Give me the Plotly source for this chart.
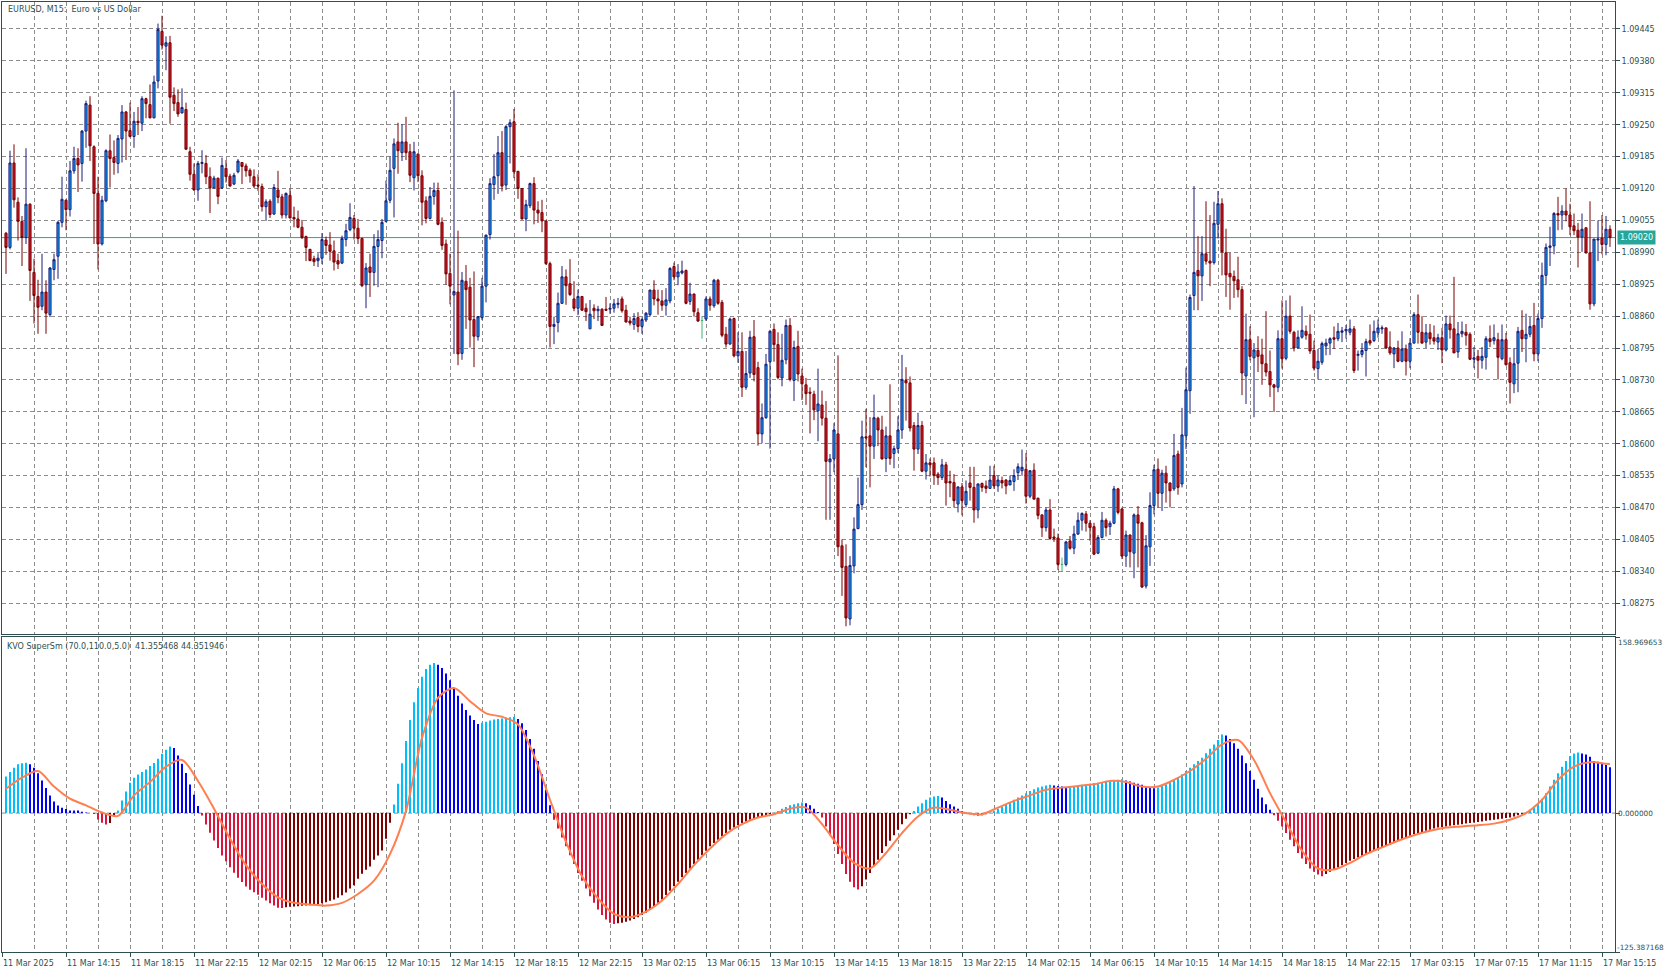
import plotly.graph_objects as go

# ---------------- DATA ----------------
# Prices are stored in points (0.00001) above 1.08000
PRICE_BASE = 1.08
POINT = 0.00001

opens = [1029,1000,1172,1092,1053,1020,1088,949,900,880,
909,863,955,982,1051,1096,1077,1156,1181,1171,
1237,1290,1205,1110,1007,1095,1197,1183,1171,1221,
1276,1238,1226,1257,1253,1303,1291,1264,1339,1440,
1410,1417,1310,1295,1274,1281,1195,1149,1117,1171,
1171,1144,1121,1141,1121,1161,1145,1129,1154,1173,
1166,1157,1144,1127,1124,1083,1094,1068,1117,1103,
1066,1106,1061,1058,1041,1022,996,977,973,978,
1015,1005,993,973,968,1016,1036,1059,1039,1018,
924,960,949,1002,1014,1053,1096,1161,1215,1193,
1215,1195,1142,1190,1146,1095,1059,1104,1116,1051,
1007,947,903,909,784,931,919,853,818,857,
921,1026,1128,1146,1193,1127,1246,1256,1155,1120,
1058,1085,1130,1076,1071,1054,967,839,847,886,
940,926,895,876,900,876,834,876,871,874,
874,874,876,884,895,872,850,843,857,839,
852,863,913,895,891,882,891,961,940,948,
953,890,905,867,851,854,895,881,933,888,
823,803,855,779,788,715,744,818,755,620,
653,767,833,802,734,771,841,729,798,738,
720,705,701,667,679,652,563,569,620,392,
350,243,351,427,476,614,616,595,652,628,
570,616,580,590,628,729,724,637,589,637,
544,561,561,538,531,557,523,521,477,512,
476,520,511,465,519,514,509,535,514,525,
526,516,523,541,545,548,493,546,489,455,
429,465,410,408,354,354,402,387,416,444,
457,438,431,377,409,444,431,438,508,467,
371,414,377,455,439,310,390,474,548,499,
540,520,508,579,518,616,708,902,953,942,
987,972,969,1047,1089,989,947,941,934,914,
738,812,775,790,781,763,747,720,715,814,
774,860,827,795,817,829,823,790,753,766,
799,805,816,814,827,830,827,834,780,782,
790,810,810,826,834,836,797,783,795,768,
793,768,805,863,827,807,826,816,807,816,
791,844,834,787,824,827,823,772,778,770,
776,814,810,812,773,812,765,722,764,831,
814,823,841,783,855,943,1000,1003,1069,1066,
1074,1066,1044,1035,1021,1040,989,885,1015,1019,
1006,1037]

highs = [1031,1197,1210,1102,1064,1202,1090,977,934,987,
933,960,987,1054,1144,1098,1176,1205,1202,1239,
1299,1308,1208,1144,1105,1200,1230,1218,1229,1290,
1278,1295,1276,1286,1308,1305,1332,1350,1456,1472,
1430,1431,1326,1322,1324,1295,1205,1171,1176,1198,
1188,1163,1146,1142,1183,1178,1150,1152,1180,1174,
1171,1161,1159,1149,1130,1098,1098,1129,1156,1109,
1112,1120,1083,1075,1056,1024,997,983,988,1029,
1022,1031,1014,987,1024,1048,1090,1066,1058,1020,
968,987,1027,1035,1058,1136,1185,1222,1254,1251,
1266,1211,1215,1192,1157,1104,1123,1132,1132,1061,
1016,987,1320,1034,950,964,938,951,860,938,
1026,1141,1190,1227,1237,1249,1261,1282,1156,1121,
1097,1132,1143,1094,1097,1055,971,859,908,962,
955,976,931,914,901,886,893,884,881,876,
899,886,895,897,900,883,859,866,868,857,
868,914,933,914,913,917,960,969,966,973,
955,928,906,876,860,900,900,936,936,893,
838,857,857,827,827,789,830,852,767,682,
783,832,845,827,824,853,856,810,830,753,
734,715,708,753,708,687,579,642,780,405,
395,371,450,531,647,671,654,700,655,657,
635,721,596,656,781,756,737,644,663,646,
579,570,572,542,569,563,545,538,513,520,
525,553,553,519,521,525,555,555,535,533,
528,535,548,560,588,581,546,560,490,456,
470,487,427,417,368,402,412,433,460,460,
463,444,439,414,461,448,443,514,510,470,
423,415,458,473,441,414,501,557,570,547,
555,521,620,586,673,755,904,1125,1023,1023,
1094,1066,1093,1115,1100,1038,989,953,981,921,
865,839,805,819,814,870,790,722,831,892,
892,902,830,831,880,841,863,810,793,808,
814,817,839,846,838,842,853,840,790,805,
814,843,851,853,841,837,829,797,810,829,
802,815,868,904,860,844,844,841,824,836,
861,861,940,848,849,844,827,797,791,797,
819,841,843,826,843,826,776,795,838,872,
865,858,887,865,969,1008,1042,1072,1103,1086,
1120,1089,1069,1050,1069,1040,1094,1017,1055,1066,
1064,1045]

lows = [946,996,1081,1014,962,1007,891,845,824,872,
824,858,933,936,1041,1035,1063,1150,1113,1134,
1203,1176,1007,955,1004,1092,1122,1148,1151,1173,
1178,1224,1203,1229,1237,1263,1263,1263,1324,1403,
1361,1252,1278,1266,1273,1199,1136,1115,1095,1151,
1129,1070,1120,1088,1119,1132,1124,1127,1151,1129,
1144,1132,1121,1115,1073,1054,1060,1066,1090,1059,
1059,1059,1041,1039,1017,972,972,962,960,966,
985,973,953,956,966,1002,1033,1016,1007,919,
876,899,922,919,978,1051,1090,1061,1150,1176,
1178,1133,1116,1133,1045,1049,1057,1087,1045,995,
924,884,783,760,771,834,796,756,810,852,
888,1016,1097,1109,1114,1117,1171,1141,1099,1057,
1033,1080,1047,1050,1031,964,796,803,827,885,
883,901,870,862,871,850,834,854,850,840,
871,865,867,876,867,847,841,832,827,824,
848,859,882,863,871,861,886,933,923,945,
884,883,859,848,814,850,871,877,883,817,
796,802,776,765,695,710,734,727,596,601,
651,590,767,731,717,762,727,687,727,689,
679,621,648,605,637,445,445,542,371,290,
228,230,336,426,465,552,511,569,595,568,
542,557,550,581,610,647,625,545,579,542,
527,533,516,516,526,474,491,470,460,454,
470,484,439,448,502,499,508,508,502,509,
497,516,504,526,535,478,489,487,446,410,
421,404,400,343,339,350,384,375,414,423,
421,402,373,375,407,411,414,436,456,365,
349,348,326,348,306,305,351,456,470,463,
480,470,504,496,511,589,661,872,872,891,
965,921,965,1018,943,899,873,897,898,699,
681,770,654,746,720,737,695,665,705,753,
770,824,788,795,814,812,783,749,731,761,
780,781,793,809,807,814,821,744,749,776,
737,800,807,816,824,793,781,754,766,766,
739,754,804,804,804,795,802,802,791,764,
788,814,785,775,817,800,771,754,733,753,
751,797,802,731,770,759,682,703,705,787,
766,817,768,768,836,923,962,986,1035,1036,
1053,1025,1025,959,991,987,873,880,972,986,
984,1001]

closes = [1000,1172,1097,1053,1020,1088,953,902,878,909,
866,958,975,1051,1098,1077,1156,1181,1168,1237,
1293,1207,1110,1007,1096,1197,1181,1173,1222,1276,
1237,1226,1257,1254,1303,1293,1264,1337,1444,1412,
1417,1306,1293,1272,1285,1200,1149,1117,1171,1173,
1144,1121,1141,1104,1167,1144,1125,1147,1176,1165,
1156,1146,1125,1125,1083,1093,1067,1122,1102,1066,
1110,1060,1058,1041,1020,1000,973,971,978,1016,
1004,992,970,966,1018,1034,1061,1039,1018,922,
958,949,1002,1016,1051,1095,1157,1211,1197,1215,
1193,1147,1195,1146,1092,1059,1104,1116,1047,1004,
946,921,910,783,933,914,852,819,859,921,
1025,1130,1144,1193,1125,1246,1254,1154,1120,1058,
1087,1130,1076,1070,1054,967,839,843,886,940,
922,904,876,900,872,869,864,871,874,841,
872,876,885,886,871,848,846,855,839,853,
866,913,895,891,882,893,957,940,950,952,
886,905,869,850,851,895,882,933,886,821,
803,854,779,788,715,743,817,741,620,653,
762,829,802,735,770,841,731,796,742,722,
702,703,669,681,652,564,569,628,390,348,
245,352,426,476,614,612,595,653,628,569,
616,570,590,628,731,724,632,589,637,544,
561,557,535,531,557,520,520,484,512,484,
503,511,465,518,511,509,526,514,526,520,
514,525,535,553,552,493,545,487,454,429,
465,407,407,354,354,400,387,416,444,458,
438,429,375,409,444,429,438,508,460,371,
414,380,455,438,308,392,474,547,499,540,
520,504,576,511,618,710,898,949,942,987,
972,968,1049,1089,991,944,940,932,914,744,
812,778,791,778,763,746,720,715,814,773,
860,829,795,817,831,821,789,754,768,804,
805,814,813,829,830,833,834,749,782,790,
808,805,829,836,836,795,785,795,768,793,
768,805,863,827,805,826,814,809,816,791,
844,832,785,824,829,821,772,775,770,778,
814,808,816,776,812,761,725,763,829,814,
823,839,783,855,943,1000,1003,1069,1066,1074,
1066,1042,1034,1021,1037,989,885,1017,1017,1006,
1037,1020]

# KVO histogram, one value per bar
kvo_hist = [33,37,41,44,45,45.5,44,41,36,29.5,
22.6,16,10.5,6.9,4.8,3.6,2.4,2.35,2.3,1.2,
0.6,0.1,-0.9,-5.7,-8.7,-10.2,-9,-3,2.4,11.4,
19.6,27.4,31.9,34.9,37,39.4,42.5,45.2,49.1,53.6,
57.2,60.2,58.7,52.1,44.6,36.1,25.9,16.6,6.3,-2.1,
-10.2,-17.8,-24.7,-31.6,-38.2,-43.4,-48.8,-53.9,-58.4,-62.3,
-66.2,-69.3,-71.4,-73.8,-76.5,-78.9,-81.3,-83.4,-85.5,-85.6,
-84.9,-84.6,-84.3,-84.0,-83.7,-83.4,-83.1,-82.5,-82.0,-81.3,
-80.4,-79.2,-78.0,-76.5,-74.1,-71.7,-68.1,-65.1,-59.3,-54.8,
-51.2,-48.2,-42.2,-38.2,-33.7,-23.2,-8.7,7.8,26.5,45,
65,84,100,113,123,130,134,135.5,134,131,
126,120,113,106,99,93,88,84,80.5,81.5,
82.5,83.5,84.5,85,85.5,86,86.5,87,85,81,
75,67,58,47,35,21,7,-6,-14,-22,
-30,-38,-46,-54,-61,-68,-75,-81,-87,-92,
-96,-99,-100,-99.5,-99,-98,-97,-95.5,-94,-92,
-90,-87,-84,-81,-78,-74,-70,-66,-62,-58,
-54,-50,-46,-42,-38,-34,-30,-27,-24,-21,
-18,-15,-13,-11,-9,-7.5,-6,-5,-4,-3,
-2,-1,0.5,2,4,5.5,7,8,9,9.5,
9,7,4,1,-4,-12,-20,-28,-37,-46,
-55,-62,-67,-69,-66,-60,-54,-48,-42,-36,
-30,-25,-20,-15,-10,-5,-1,2,6,9,
12,14,15,15.5,14,11,8,6,4,2,
0.5,-1,-2,-2.5,-2,-1,0.5,2,4,6,
8,10,12,14,16,18,20,21.5,23,24,
25,25.5,25,24.5,24,23.5,24,24.5,25,25.5,
26,26.5,27,27.5,28,28.5,29,29.5,30,30.5,
29.5,28.5,27.5,26.5,25.5,24.5,23.5,22.5,23,24.5,
26,28,30,32.5,35,38,41,44,47,50,
54,58,62,66,71,70,67,63,58,52,
45,38,30,22,14,8,3,-2,-7,-12,
-18,-24,-30,-36,-41,-46,-50,-53,-55.5,-57,
-55,-53,-51,-49,-47,-45,-43,-41.5,-40,-38.5,
-37,-35.5,-34,-32.5,-31,-29.5,-28,-26.5,-25,-23.5,
-22,-20.5,-19,-18,-17,-16,-15,-14,-13,-12.5,
-12,-11.5,-11,-10.5,-10,-9.5,-9,-8.5,-8,-7.5,
-7,-6.5,-6,-5.5,-5,-4.5,-4,-3,-2,-1,
1,3,6,9,13,18,24,30,36,41.8,
47,51.5,53.9,54.8,53.9,53,50.9,47,46.4,45.5,
43.4,41.355468]

# KVO signal line, read every 4 bars
signal_bars = [0,4,8,12,16,20,24,28,32,36,40,44,48,52,56,60,64,68,72,76,80,84,88,92,96,
100,104,108,112,116,120,124,128,132,136,140,144,148,152,156,160,164,168,172,176,180,184,188,192,196,
200,204,208,212,216,220,224,228,232,236,240,244,248,252,256,260,264,268,272,276,280,284,288,292,296,
300,304,308,312,316,320,324,328,332,336,340,344,348,352,356,360,364,368,372,376,380,384,388,392,396,400,401]
signal_vals = [22,32,38,24,13,7,0.5,-2.5,16,28,42,48,29,4,-23,-47,-64,-76,-81,-82.5,-83.5,-81,-73,-61,-37,
2,68,104,113,101,90,87,80,52,12,-26,-57,-77,-91,-94,-89,-79,-64,-47,-32,-19,-10,-4,-1,4,
5,-10,-29,-45,-50,-36,-18,-3,5,3,0,-1,5,11,16,21,23,24.5,26,29,28,24,24,30,38,
49,62,66,48,18,-8,-34,-50,-51,-45,-37,-31,-25,-20,-16,-13,-12,-11,-9.5,-6,0,12,30,42,46,44.5,44.351946]

time_labels = ["11 Mar 2025","11 Mar 14:15","11 Mar 18:15","11 Mar 22:15","12 Mar 02:15","12 Mar 06:15",
"12 Mar 10:15","12 Mar 14:15","12 Mar 18:15","12 Mar 22:15","13 Mar 02:15","13 Mar 06:15",
"13 Mar 10:15","13 Mar 14:15","13 Mar 18:15","13 Mar 22:15","14 Mar 02:15","14 Mar 06:15",
"14 Mar 10:15","14 Mar 14:15","14 Mar 18:15","14 Mar 22:15","17 Mar 03:15","17 Mar 07:15",
"17 Mar 11:15","17 Mar 15:15"]
time_label_bars = [-1,15,31,47,63,79,95,111,127,143,159,175,191,207,223,239,255,271,287,303,319,335,351,367,383,399]

price_tick_labels = ["1.08275","1.08340","1.08405","1.08470","1.08535","1.08600","1.08665","1.08730",
"1.08795","1.08860","1.08925","1.08990","1.09055","1.09120","1.09185","1.09250","1.09315","1.09380","1.09445"]
current_price = 1.09020
ind_top, ind_bottom = 158.969653, -125.387168
ind_labels = ["158.969653", "0.000000", "-125.387168"]
title_text = "EURUSD, M15:  Euro vs US Dollar"
ind_text = "KVO SuperSm (70.0,110.0,5.0)  41.355468 44.351946"

# ---------------- STYLE ----------------
W, H = 1668, 974
L, R, T, B = 2, 1615, 2, 952
FONT = "DejaVu Sans"
TXT = "#2F4F4F"
AXC = "#2F4F4F"
GRID = "#8C8C8C"
BULL_FILL, BULL_LINE = "#00A5FF", "#1C1C78"
BEAR_FILL, BEAR_LINE = "#C8172B", "#7A0000"
DOJI = "#3CB371"
TEAL = "#26A69A"


def px_x(px):
    return (px - L) / (R - L)


def px_y(py):
    return (B - py) / (B - T)


def to_price(v):
    return None if v is None else PRICE_BASE + v * POINT


n = len(closes)
bars = list(range(n))
is_doji = [opens[i] == closes[i] for i in bars]
not_doji = [not d for d in is_doji]


def pick(arr, cond):
    return [to_price(arr[i]) if cond[i] else None for i in bars]


fig = go.Figure()
fig.add_trace(go.Candlestick(
    x=bars, open=pick(opens, not_doji), high=pick(highs, not_doji),
    low=pick(lows, not_doji), close=pick(closes, not_doji),
    increasing=dict(fillcolor=BULL_FILL, line=dict(color=BULL_LINE, width=1)),
    decreasing=dict(fillcolor=BEAR_FILL, line=dict(color=BEAR_LINE, width=1)),
    whiskerwidth=0, xaxis="x", yaxis="y", hoverinfo="skip"))
fig.add_trace(go.Candlestick(
    x=bars, open=pick(opens, is_doji), high=pick(highs, is_doji),
    low=pick(lows, is_doji), close=pick(closes, is_doji),
    increasing=dict(fillcolor=DOJI, line=dict(color=DOJI, width=1)),
    decreasing=dict(fillcolor=DOJI, line=dict(color=DOJI, width=1)),
    whiskerwidth=0, xaxis="x", yaxis="y", hoverinfo="skip"))

# histogram colours: rising/falling above and below zero
hist_colors = []
for i, v in enumerate(kvo_hist):
    prev = kvo_hist[i - 1] if i > 0 else v - 1
    if v >= 0:
        hist_colors.append("#00BFFF" if v > prev else "#0000FF")
    else:
        hist_colors.append("#DC143C" if v < prev else "#800000")

fig.add_trace(go.Bar(x=bars, y=kvo_hist, marker=dict(color=hist_colors, line=dict(width=0)),
                     width=0.5, xaxis="x2", yaxis="y2", hoverinfo="skip"))
fig.add_trace(go.Scatter(x=signal_bars, y=signal_vals, mode="lines",
                         line=dict(color="#FF7F50", width=2, shape="spline", smoothing=0.8),
                         xaxis="x2", yaxis="y2", hoverinfo="skip"))

grid8 = list(range(7, 402, 8))
xr = [-1, (R - 6) / 4.0]
main_bottom = px_y(634)
ind_topdom = px_y(637)
price_vals = [float(s) for s in price_tick_labels]
dash = "4px,3px"

fig.update_layout(
    width=W, height=H, margin=dict(l=L, r=W - R, t=T, b=H - B),
    paper_bgcolor="white", plot_bgcolor="white", showlegend=False, hovermode=False,
    boxgap=0.25,
    font=dict(family=FONT, size=8, color=TXT),
    xaxis=dict(domain=[0, 1], anchor="y", range=xr, tickvals=grid8, showticklabels=False, ticks="",
               showgrid=True, gridcolor=GRID, griddash=dash, gridwidth=1, zeroline=False,
               showline=True, mirror=True, linecolor=AXC, linewidth=1,
               rangeslider=dict(visible=False), fixedrange=True),
    yaxis=dict(domain=[main_bottom, 1], anchor="x", range=[1.082123, 1.095000], side="right",
               tickvals=price_vals, ticktext=price_tick_labels, ticks="outside", ticklen=4,
               tickcolor=AXC, tickfont=dict(family=FONT, size=8, color=TXT),
               showgrid=True, gridcolor=GRID, griddash=dash, zeroline=False,
               showline=True, mirror=True, linecolor=AXC, linewidth=1),
    xaxis2=dict(domain=[0, 1], anchor="y2", range=xr, tickvals=time_label_bars, showticklabels=False,
                ticks="outside", ticklen=4, tickcolor=AXC,
                showgrid=True, gridcolor=GRID, griddash=dash, zeroline=False,
                minor=dict(tickvals=grid8, showgrid=True, gridcolor=GRID, griddash=dash, ticks=""),
                showline=True, mirror=True, linecolor=AXC, linewidth=1),
    yaxis2=dict(domain=[0, ind_topdom], anchor="x2", range=[ind_bottom, ind_top], side="right",
                tickvals=[ind_bottom, 0, ind_top], showticklabels=False, ticks="outside", ticklen=4,
                tickcolor=AXC, showgrid=False, zeroline=False,
                showline=True, mirror=True, linecolor=AXC, linewidth=1),
)

shapes = [
    dict(type="line", xref="x domain", yref="y", x0=0, x1=1, y0=current_price, y1=current_price,
         line=dict(color=TEAL, width=1), layer="below"),
    dict(type="line", xref="x2 domain", yref="y2", x0=0, x1=1, y0=0, y1=0,
         line=dict(color=GRID, width=1, dash=dash), layer="below"),
]
fig.update_layout(shapes=shapes)

ann = []
ann.append(dict(text=title_text, xref="paper", yref="paper", x=px_x(6), y=px_y(9.5),
                xanchor="left", yanchor="middle", showarrow=False, font=dict(size=8, color=TXT)))
ann.append(dict(text=ind_text, xref="paper", yref="paper", x=px_x(5), y=px_y(646),
                xanchor="left", yanchor="middle", showarrow=False, font=dict(size=8, color=TXT)))
for lab, b in zip(time_labels, time_label_bars):
    ann.append(dict(text=lab, xref="x2", yref="paper", x=b, y=px_y(963), xanchor="left",
                    yanchor="middle", showarrow=False, xshift=-1, font=dict(size=8, color=TXT)))
ind_font = dict(size=7.3, color=TXT)
ann.append(dict(text=ind_labels[0], xref="paper", yref="paper", x=px_x(1617), y=px_y(642),
                xanchor="left", yanchor="middle", showarrow=False, borderpad=0, font=ind_font))
ann.append(dict(text=ind_labels[1], xref="paper", yref="y2", x=px_x(1617), y=0,
                xanchor="left", yanchor="middle", showarrow=False, borderpad=0, font=ind_font))
ann.append(dict(text=ind_labels[2], xref="paper", yref="paper", x=px_x(1616), y=px_y(947),
                xanchor="left", yanchor="middle", showarrow=False, borderpad=0, font=ind_font))
ann.append(dict(text="1.09020", xref="paper", yref="y", x=px_x(1617), y=current_price,
                xanchor="left", yanchor="middle", showarrow=False, bgcolor=TEAL, borderpad=2,
                font=dict(size=8, color="white")))
fig.update_layout(annotations=ann)

fig.write_html("out.html", config={"staticPlot": True},
               post_script="document.body.style.margin='0';document.body.style.overflow='hidden';")
